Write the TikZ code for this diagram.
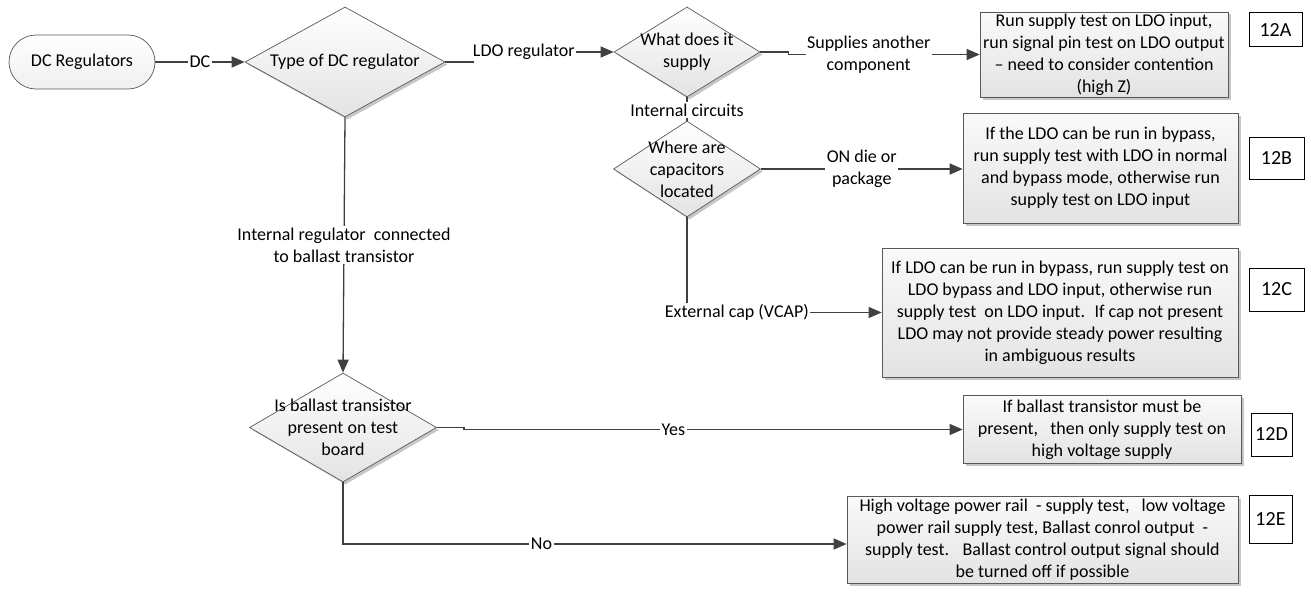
\documentclass[tikz,border=0pt]{standalone}
\usepackage{fontspec}
\setmainfont{Carlito}
\usetikzlibrary{shapes.geometric,arrows.meta,shadows}
\begin{document}
\begin{tikzpicture}[x=1pt,y=-1pt,
  font=\fontsize{18}{22}\selectfont,
  every node/.style={inner sep=0pt},
  shad/.style={drop shadow={shadow xshift=2.5pt,shadow yshift=-2.5pt,fill=black,opacity=0.22}},
  conn/.style={draw=black!75, line width=1.3pt, -{Triangle[length=13pt,width=11pt]}},
  plainline/.style={draw=black!75, line width=1.3pt},
  lbl/.style={fill=white, inner xsep=1.5pt, inner ysep=1.5pt, align=center},
  dia/.style={diamond, draw=black!65, line width=0.7pt, top color=white, bottom color=black!11, shad},
  box/.style={rectangle, draw=black!65, line width=0.7pt, top color=black!2, bottom color=black!11, align=center, shad},
  tag/.style={rectangle, draw=black, line width=1pt, fill=white, font=\fontsize{20}{24}\selectfont},
  startn/.style={rectangle, rounded corners=27pt, draw=black!65, line width=0.7pt, top color=white, bottom color=black!6}
]
\useasboundingbox (0,0) rectangle (1311,594);

% nodes
\node[startn, minimum width=146pt, minimum height=54pt] (start) at (82,62) {DC Regulators};
\node[dia, minimum width=200pt, minimum height=110pt,
  label={[align=center]center:Type of DC regulator}] (type) at (345,62) {};
\node[dia, minimum width=146pt, minimum height=90pt,
  label={[align=center]center:What does it\\supply}] (what) at (687,52) {};
\node[dia, minimum width=147pt, minimum height=96pt,
  label={[align=center]center:Where are\\capacitors\\located}] (where) at (687,169) {};
\node[dia, minimum width=187pt, minimum height=109pt,
  label={[align=center]center:Is ballast transistor\\present on test\\board}] (ballast) at (343,427.5) {};

\node[box, minimum width=248pt, minimum height=85pt] (A) at (1104,54.5)
  {Run supply test on LDO input,\\run signal pin test on LDO output\\– need to consider contention\\(high Z)};
\node[box, minimum width=275pt, minimum height=110pt] (B) at (1100.5,168)
  {If the LDO can be run in bypass,\\run supply test with LDO in normal\\and bypass mode, otherwise run\\supply test on LDO input};
\node[box, minimum width=356pt, minimum height=129pt] (C) at (1060,312.5)
  {If LDO can be run in bypass, run supply test on\\LDO bypass and LDO input, otherwise run\\supply test~ on LDO input.~ If cap not present\\LDO may not provide steady power resulting\\in ambiguous results};
\node[box, minimum width=278pt, minimum height=68pt] (D) at (1102,429.5)
  {If ballast transistor must be\\present,~~ then only supply test on\\high voltage supply};
\node[box, minimum width=391pt, minimum height=87pt] (E) at (1042.5,539.5)
  {High voltage power rail~ - supply test,~~ low voltage\\power rail supply test, Ballast conrol output~ -\\supply test.~~ Ballast control output signal should\\be turned off if possible};

\node[tag, minimum width=53pt, minimum height=34pt] (tA) at (1275.5,30) {12A};
\node[tag, minimum width=55pt, minimum height=42pt] (tB) at (1276.5,158) {12B};
\node[tag, minimum width=55pt, minimum height=43pt] (tC) at (1276.5,289.5) {12C};
\node[tag, minimum width=41pt, minimum height=43pt] (tD) at (1271.5,434.5) {12D};
\node[tag, minimum width=43pt, minimum height=48pt] (tE) at (1270.5,519) {12E};

% connectors
\draw[conn] (start.east) -- (type.west) node[lbl, midway] {DC};
\draw[conn] (type.east) -- ++(28,0) -- ++(0,-10) -- (what.west)
  node[lbl, pos=0.36] {LDO regulator};
\draw[conn] (what.east) -- ++(28,0) |- (A.west)
  node[lbl, pos=0.71] {Supplies another\\component};
\draw[plainline] (what.south) -- (where.north)
  node[lbl, pos=0.55] {Internal circuits};
\draw[conn] (where.east) -- (where.east -| B.west)
  node[lbl, midway] {ON die or\\package};
\draw[conn] (where.south) |- (C.west)
  node[lbl, pos=0.628] {External cap (VCAP)};
\draw[conn] (type.south) -- (ballast.north)
  node[lbl, midway] {Internal regulator~ connected\\to ballast transistor};
\draw[conn] (ballast.east) -- ++(27,0) |- (D.west)
  node[lbl, pos=0.71] {Yes};
\draw[conn] (ballast.south) |- ([yshift=-4.5pt]E.west)
  node[lbl, pos=0.697] {No};
\end{tikzpicture}
\end{document}
